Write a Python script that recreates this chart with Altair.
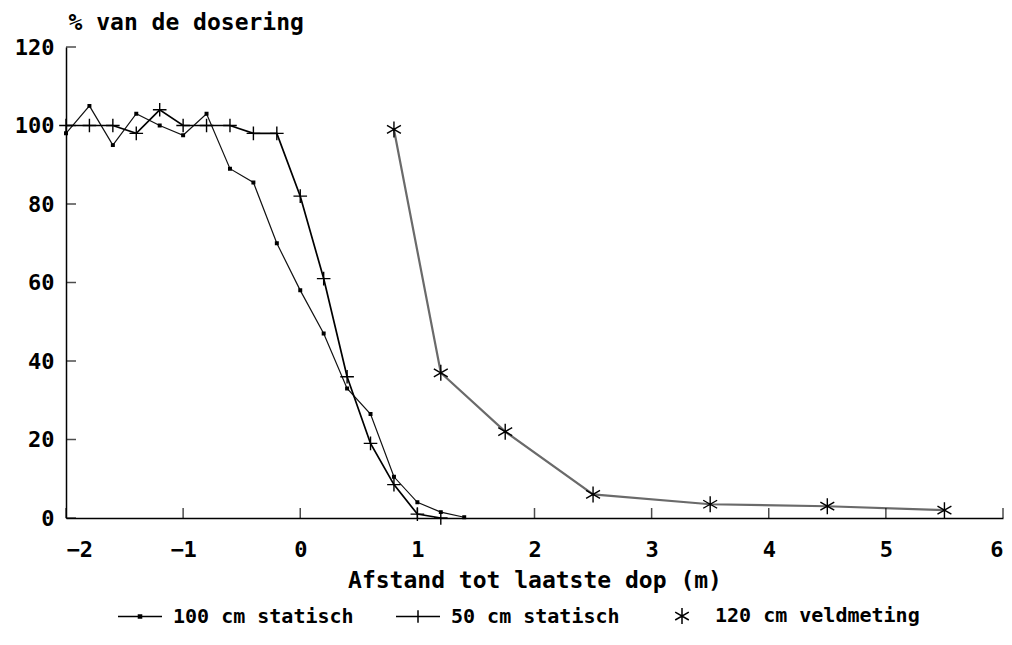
import altair as alt
import pandas as pd

# ---- data ----
series_names = ["100 cm statisch", "50 cm statisch", "120 cm veldmeting"]

x_100 = [-2.0, -1.8, -1.6, -1.4, -1.2, -1.0, -0.8, -0.6, -0.4, -0.2, 0.0, 0.2, 0.4, 0.6, 0.8, 1.0, 1.2, 1.4]
y_100 = [98, 105, 95, 103, 100, 97.5, 103, 89, 85.5, 70, 58, 47, 33, 26.5, 10.5, 4, 1.5, 0.2]

x_50 = [-2.0, -1.8, -1.6, -1.4, -1.2, -1.0, -0.8, -0.6, -0.4, -0.2, 0.0, 0.2, 0.4, 0.6, 0.8, 1.0, 1.2]
y_50 = [100, 100, 100, 98, 104, 100, 100, 100, 98, 98, 82, 61, 36, 19, 8.5, 1, 0]

x_120 = [0.8, 1.2, 1.75, 2.5, 3.5, 4.5, 5.5]
y_120 = [99, 37, 22, 6, 3.5, 3, 2]

x_ticks = [-2, -1, 0, 1, 2, 3, 4, 5, 6]
y_ticks = [0, 20, 40, 60, 80, 100, 120]

rows = []
for name, xs, ys in zip(series_names, [x_100, x_50, x_120], [y_100, y_50, y_120]):
    for xv, yv in zip(xs, ys):
        rows.append({"series": name, "x": xv, "y": yv})
df = pd.DataFrame(rows)
xt = pd.DataFrame({"v": x_ticks})
yt = pd.DataFrame({"v": y_ticks})

FONT = "DejaVu Sans Mono"

xscale = alt.Scale(domain=[-2, 6], nice=False, zero=False)
yscale = alt.Scale(domain=[0, 120], nice=False, zero=False)

x_enc = alt.X(
    "x:Q", scale=xscale,
    axis=alt.Axis(values=x_ticks, format="d", ticks=False, grid=False, labelPadding=21,
                  labelFont=FONT, labelFontSize=22, labelFontWeight="bold", labelColor="black",
                  domainColor="black", domainWidth=1.5,
                  title="Afstand tot laatste dop (m)", titleFont=FONT, titleFontSize=23,
                  titleFontWeight="bold", titleColor="black", titleY=62, titleBaseline="middle"),
)
y_enc = alt.Y(
    "y:Q", scale=yscale,
    axis=alt.Axis(values=y_ticks, format="d", ticks=False, grid=False, labelPadding=12,
                  labelFont=FONT, labelFontSize=22, labelFontWeight="bold", labelColor="black",
                  domainColor="black", domainWidth=1.5,
                  title="% van de dosering", titleFont=FONT, titleFontSize=23, titleFontWeight="bold",
                  titleColor="black", titleAngle=0, titleAlign="left", titleBaseline="middle",
                  titleX=2, titleY=-25),
)

lines = alt.Chart(df).mark_line().encode(
    x=x_enc, y=y_enc,
    color=alt.Color("series:N", scale=alt.Scale(domain=series_names, range=["#111111", "#000000", "#6a6a6a"]), legend=None),
    strokeWidth=alt.StrokeWidth("series:N", scale=alt.Scale(domain=series_names, range=[1.2, 2.2, 0.9]), legend=None),
)

sq_path = "M-0.16,-0.16L0.16,-0.16L0.16,0.16L-0.16,0.16Z"
plus_path = "M-0.85,0L0.85,0M0,-0.85L0,0.85"
star_path = "M0,-1L0,1M-0.87,-0.5L0.87,0.5M-0.87,0.5L0.87,-0.5"

pts = alt.Chart(df).mark_point(filled=False, strokeWidth=1.4, color="black", opacity=1, fillOpacity=1, size=256).encode(
    x="x:Q", y="y:Q",
    shape=alt.Shape("series:N", scale=alt.Scale(domain=series_names, range=[sq_path, plus_path, star_path]), legend=None),
    fill=alt.Fill("series:N", scale=alt.Scale(domain=series_names, range=["black", "transparent", "transparent"]), legend=None),
)

leg_paths = [
    "M-1,0L1,0M-0.07,-0.07L0.07,-0.07L0.07,0.07L-0.07,0.07Z",
    "M-1,0L1,0M0,-0.28L0,0.28",
    "M0,-0.36L0,0.36M-0.31,-0.18L0.31,0.18M-0.31,0.18L0.31,-0.18",
]
leg = alt.Chart(df).transform_filter("false").mark_point(
    filled=False, strokeWidth=1.5, color="black", opacity=1, size=1936
).encode(
    x="x:Q", y="y:Q",
    shape=alt.Shape("series:N",
                    scale=alt.Scale(domain=series_names, range=leg_paths),
                    legend=alt.Legend(title=None, orient="none", legendX=51, legendY=546,
                                      direction="horizontal", symbolSize=1936, symbolStrokeWidth=1.5,
                                      symbolStrokeColor="black", labelFont=FONT, labelFontSize=20,
                                      labelFontWeight="bold", labelColor="black", labelOffset=10,
                                      columnPadding=39, padding=0, labelLimit=400)),
)

xticks = alt.Chart(xt).mark_tick(orient="vertical", size=10, thickness=1.5, color="black", yOffset=-5).encode(
    x="v:Q", y=alt.datum(0)
)
yticks = alt.Chart(yt).mark_tick(orient="horizontal", size=10, thickness=1.5, color="black", xOffset=5).encode(
    y="v:Q", x=alt.datum(-2)
)

chart = alt.layer(lines, pts, xticks, yticks, leg).resolve_scale(
    shape="independent", color="independent", fill="independent"
).properties(
    width=937, height=471,
    background="white",
    autosize=alt.AutoSizeParams(type="none"),
    padding={"left": 58, "top": 39, "right": 1, "bottom": 110},
).configure_view(stroke=None).configure_axis(grid=False)

chart.save("out.html", embed_options={"renderer": "svg", "actions": False})
